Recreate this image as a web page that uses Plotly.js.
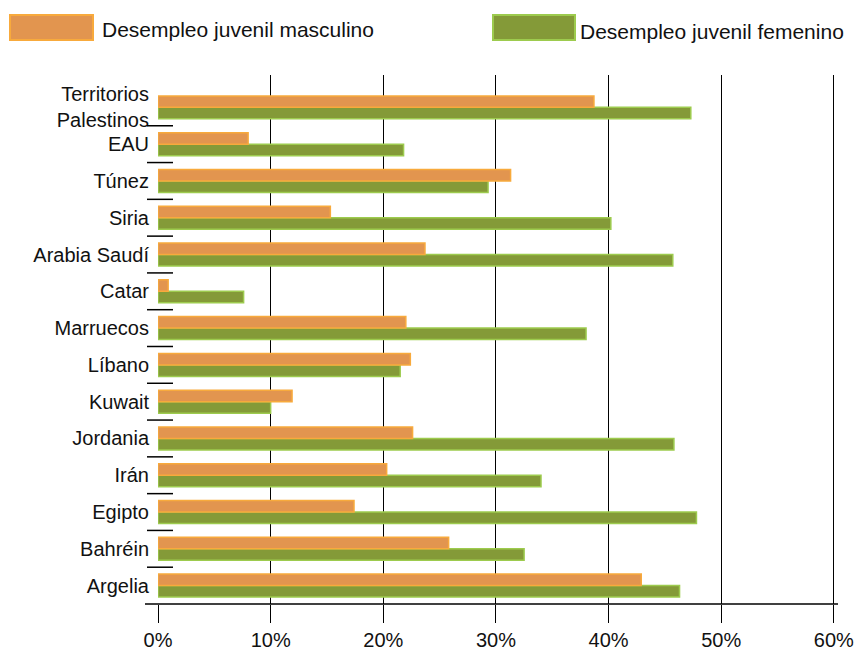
<!DOCTYPE html>
<html>
<head>
<meta charset="utf-8">
<script src="https://cdn.plot.ly/plotly-3.0.1.min.js"></script>
<style>html,body{margin:0;padding:0;background:#fff}#chart{width:858px;height:653px}</style>
</head>
<body>
<div id="chart"></div>
<script>
// Data (bottom to top)
const countries = ["Argelia","Bahréin","Egipto","Irán","Jordania","Kuwait","Líbano","Marruecos","Catar","Arabia Saudí","Siria","Túnez","EAU","Territorios<br>Palestinos"];
const male =   [42.9, 25.8, 17.4, 20.3, 22.6, 11.9, 22.4, 22.0, 0.9, 23.7, 15.3, 31.3, 8.0, 38.7];
const female = [46.3, 32.5, 47.8, 34.0, 45.8, 10.0, 21.5, 38.0, 7.6, 45.7, 40.2, 29.3, 21.8, 47.3];
const xTicks = [0, 10, 20, 30, 40, 50, 60];
const xTickLabels = ["0%","10%","20%","30%","40%","50%","60%"];
const seriesNames = ["Desempleo juvenil masculino", "Desempleo juvenil femenino"];

const W = 858, H = 653;
const M = {l: 158, r: 23, t: 75, b: 49};
const pw = W - M.l - M.r, ph = H - M.t - M.b;
const px = x => (x - M.l) / pw;
const py = y => 1 - (y - M.t) / ph;

const font = {family: "Liberation Sans, Arial, Helvetica, sans-serif", size: 20, color: "#111"};
const legendFont = {family: "Liberation Sans, Arial, Helvetica, sans-serif", size: 21, color: "#111"};

const traces = [
  {type: "bar", orientation: "h", name: seriesNames[1], y: countries, x: female,
   marker: {color: "#849A38", line: {color: "#9DCB4E", width: 1.5}}, hoverinfo: "x+y"},
  {type: "bar", orientation: "h", name: seriesNames[0], y: countries, x: male,
   marker: {color: "#E2954F", line: {color: "#F8AA3C", width: 1.5}}, hoverinfo: "x+y"}
];

const shapes = [];
// y boundary ticks crossing the axis
for (let i = 1; i < countries.length; i++) {
  shapes.push({type: "line", xref: "paper", yref: "y", x0: px(147), x1: px(173), y0: i - 0.5, y1: i - 0.5,
    line: {color: "#000", width: 1.5}});
}
// extended x axis line
shapes.push({type: "line", xref: "paper", yref: "paper", x0: px(145), x1: px(838), y0: 0, y1: 0, line: {color: "#000", width: 1.5}});
// legend swatches
shapes.push({type: "rect", xref: "paper", yref: "paper", x0: px(10), x1: px(93), y0: py(40), y1: py(15),
  fillcolor: "#E2954F", line: {color: "#F8AA3C", width: 2}});
shapes.push({type: "rect", xref: "paper", yref: "paper", x0: px(493), x1: px(575), y0: py(40), y1: py(15),
  fillcolor: "#849A38", line: {color: "#9DCB4E", width: 2}});

const annotations = [
  {xref: "paper", yref: "paper", x: px(100), y: py(29), xanchor: "left", yanchor: "middle", showarrow: false, text: seriesNames[0], font: legendFont},
  {xref: "paper", yref: "paper", x: px(578), y: py(31), xanchor: "left", yanchor: "middle", showarrow: false, text: seriesNames[1], font: legendFont}
];

const layout = {
  width: W, height: H, margin: M,
  paper_bgcolor: "#fff", plot_bgcolor: "#fff",
  showlegend: false,
  barmode: "group", bargap: 0.375, bargroupgap: 0,
  font: font,
  xaxis: {range: [0, 60.1], tickvals: xTicks, ticktext: xTickLabels, showgrid: true, gridcolor: "#000", gridwidth: 1,
    zeroline: false, ticks: "outside", ticklen: 18, tickcolor: "#000", tickwidth: 1, showline: false, fixedrange: true,
    tickfont: font},
  yaxis: {type: "category", categoryorder: "array", categoryarray: countries, range: [-0.5, 13.88],
    showgrid: false, zeroline: false, ticks: "", showline: false, ticklabelstandoff: 8, tickfont: font, fixedrange: true},
  shapes: shapes,
  annotations: annotations
};

Plotly.newPlot("chart", traces, layout, {displayModeBar: false, staticPlot: true});
</script>
</body>
</html>
